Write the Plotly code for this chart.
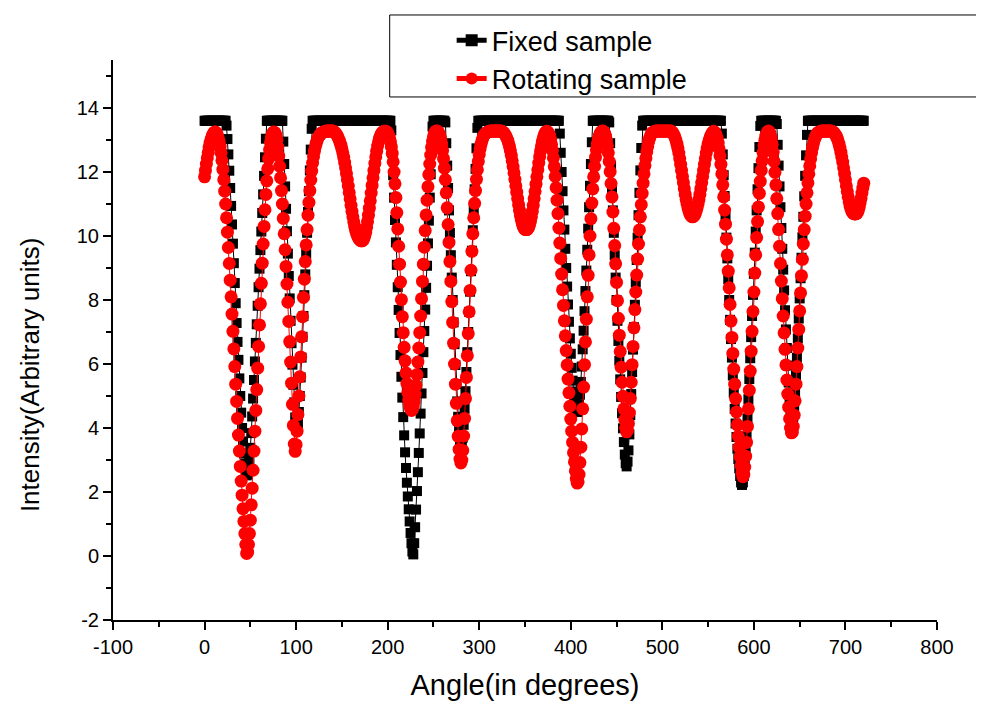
import plotly.graph_objects as go

# ---------------- data ----------------
angle_deg = list(range(0, 721))

fixed_sample = [
    13.6, 13.6, 13.6, 13.6, 13.6, 13.6, 13.6, 13.6, 13.6, 13.6,          # 0
    13.6, 13.6, 13.6, 13.6, 13.6, 13.6, 13.6, 13.6, 13.6, 13.6,          # 10
    13.6, 13.6, 13.6, 13.6, 13.45, 13.03, 12.55, 12.04, 11.5, 10.94,     # 20
    10.36, 9.76, 9.15, 8.53, 7.9, 7.28, 6.69, 6.13, 5.55, 5.0,           # 30
    4.48, 4.0, 3.58, 3.2, 2.88, 2.64, 2.52, 2.55, 2.72, 3.0,             # 40
    3.38, 3.84, 4.36, 4.92, 5.5, 6.08, 6.66, 7.24, 7.82, 8.4,            # 50
    8.98, 9.56, 10.14, 10.72, 11.3, 11.88, 12.46, 13.04, 13.6, 13.6,     # 60
    13.6, 13.6, 13.6, 13.6, 13.6, 13.6, 13.6, 13.6, 13.6, 13.6,          # 70
    13.6, 13.6, 13.6, 13.6, 13.6, 13.6, 12.95, 12.25, 11.55, 10.85,      # 80
    10.15, 9.45, 8.75, 8.05, 7.35, 6.65, 5.98, 5.35, 4.8, 4.33,          # 90
    4.05, 4.0, 4.15, 4.5, 5.0, 5.58, 6.2, 6.85, 7.5, 8.15,               # 100
    8.8, 9.45, 10.1, 10.75, 11.4, 12.05, 12.7, 13.35, 13.6, 13.6,        # 110
    13.6, 13.6, 13.6, 13.6, 13.6, 13.6, 13.6, 13.6, 13.6, 13.6,          # 120
    13.6, 13.6, 13.6, 13.6, 13.6, 13.6, 13.6, 13.6, 13.6, 13.6,          # 130
    13.6, 13.6, 13.6, 13.6, 13.6, 13.6, 13.6, 13.6, 13.6, 13.6,          # 140
    13.6, 13.6, 13.6, 13.6, 13.6, 13.6, 13.6, 13.6, 13.6, 13.6,          # 150
    13.6, 13.6, 13.6, 13.6, 13.6, 13.6, 13.6, 13.6, 13.6, 13.6,          # 160
    13.6, 13.6, 13.6, 13.6, 13.6, 13.6, 13.6, 13.6, 13.6, 13.6,          # 170
    13.6, 13.6, 13.6, 13.6, 13.6, 13.6, 13.6, 13.6, 13.6, 13.6,          # 180
    13.6, 13.6, 13.6, 13.6, 13.6, 13.6, 13.6, 13.6, 13.6, 13.6,          # 190
    13.6, 13.6, 13.6, 13.6, 13.3, 12.6, 11.9, 11.2, 10.5, 9.8,           # 200
    9.1, 8.4, 7.69, 6.97, 6.28, 5.6, 4.95, 4.34, 3.77, 3.24,             # 210
    2.75, 2.29, 1.86, 1.46, 1.08, 0.72, 0.4, 0.14, 0.05, 0.4,            # 220
    0.9, 1.45, 2.03, 2.62, 3.22, 3.83, 4.45, 5.08, 5.72, 6.37,           # 230
    7.03, 7.7, 8.38, 9.07, 9.77, 10.48, 11.2, 11.93, 12.67, 13.42,       # 240
    13.6, 13.6, 13.6, 13.6, 13.6, 13.6, 13.6, 13.6, 13.6, 13.6,          # 250
    13.6, 13.6, 13.6, 13.55, 12.9, 12.2, 11.5, 10.8, 10.1, 9.4,          # 260
    8.7, 8.0, 7.3, 6.62, 5.97, 5.37, 4.83, 4.35, 3.93, 3.6,              # 270
    3.42, 3.45, 3.7, 4.1, 4.6, 5.15, 5.75, 6.37, 7.0, 7.63,              # 280
    8.26, 8.9, 9.54, 10.18, 10.82, 11.46, 12.1, 12.74, 13.38, 13.6,      # 290
    13.6, 13.6, 13.6, 13.6, 13.6, 13.6, 13.6, 13.6, 13.6, 13.6,          # 300
    13.6, 13.6, 13.6, 13.6, 13.6, 13.6, 13.6, 13.6, 13.6, 13.6,          # 310
    13.6, 13.6, 13.6, 13.6, 13.6, 13.6, 13.6, 13.6, 13.6, 13.6,          # 320
    13.6, 13.6, 13.6, 13.6, 13.6, 13.6, 13.6, 13.6, 13.6, 13.6,          # 330
    13.6, 13.6, 13.6, 13.6, 13.6, 13.6, 13.6, 13.6, 13.6, 13.6,          # 340
    13.6, 13.6, 13.6, 13.6, 13.6, 13.6, 13.6, 13.6, 13.6, 13.6,          # 350
    13.6, 13.6, 13.6, 13.6, 13.6, 13.6, 13.6, 13.6, 13.6, 13.6,          # 360
    13.6, 13.6, 13.6, 13.6, 13.6, 13.6, 13.6, 13.6, 13.6, 13.6,          # 370
    13.6, 13.6, 13.6, 13.6, 13.6, 13.6, 13.6, 13.6, 13.2, 12.6,          # 380
    12.0, 11.4, 10.8, 10.2, 9.6, 9.0, 8.42, 7.86, 7.32, 6.8,             # 390
    6.32, 5.88, 5.48, 5.14, 4.86, 4.66, 4.54, 4.5, 4.56, 4.74,           # 400
    5.04, 5.44, 5.92, 6.46, 7.04, 7.65, 8.28, 8.92, 9.57, 10.23,         # 410
    10.9, 11.57, 12.25, 12.93, 13.6, 13.6, 13.6, 13.6, 13.6, 13.6,       # 420
    13.6, 13.6, 13.6, 13.6, 13.6, 13.6, 13.6, 13.6, 13.6, 13.6,          # 430
    13.6, 13.6, 13.55, 12.9, 12.2, 11.5, 10.8, 10.1, 9.4, 8.7,           # 440
    8.0, 7.35, 6.72, 6.1, 5.52, 4.97, 4.46, 3.99, 3.56, 3.17,            # 450
    2.9, 2.8, 2.95, 3.3, 3.8, 4.4, 5.06, 5.75, 6.45, 7.15,               # 460
    7.85, 8.55, 9.25, 9.95, 10.65, 11.35, 12.05, 12.75, 13.45, 13.6,     # 470
    13.6, 13.6, 13.6, 13.6, 13.6, 13.6, 13.6, 13.6, 13.6, 13.6,          # 480
    13.6, 13.6, 13.6, 13.6, 13.6, 13.6, 13.6, 13.6, 13.6, 13.6,          # 490
    13.6, 13.6, 13.6, 13.6, 13.6, 13.6, 13.6, 13.6, 13.6, 13.6,          # 500
    13.6, 13.6, 13.6, 13.6, 13.6, 13.6, 13.6, 13.6, 13.6, 13.6,          # 510
    13.6, 13.6, 13.6, 13.6, 13.6, 13.6, 13.6, 13.6, 13.6, 13.6,          # 520
    13.6, 13.6, 13.6, 13.6, 13.6, 13.6, 13.6, 13.6, 13.6, 13.6,          # 530
    13.6, 13.6, 13.6, 13.6, 13.6, 13.6, 13.6, 13.6, 13.6, 13.6,          # 540
    13.6, 13.6, 13.6, 13.6, 13.6, 13.6, 13.6, 13.6, 13.6, 13.6,          # 550
    13.6, 13.6, 13.6, 13.6, 13.6, 13.2, 12.55, 11.9, 11.25, 10.6,        # 560
    9.95, 9.3, 8.65, 8.0, 7.38, 6.78, 6.2, 5.64, 5.1, 4.6,               # 570
    4.14, 3.72, 3.35, 3.03, 2.74, 2.5, 2.3, 2.22, 2.3, 2.5,              # 580
    2.82, 3.24, 3.74, 4.3, 4.9, 5.53, 6.18, 6.84, 7.5, 8.16,             # 590
    8.82, 9.48, 10.14, 10.8, 11.46, 12.12, 12.78, 13.44, 13.6, 13.6,     # 600
    13.6, 13.6, 13.6, 13.6, 13.6, 13.6, 13.6, 13.6, 13.6, 13.6,          # 610
    13.6, 13.6, 13.6, 13.6, 13.6, 13.5, 12.85, 12.2, 11.55, 10.9,        # 620
    10.25, 9.6, 8.95, 8.3, 7.68, 7.08, 6.5, 5.95, 5.42, 4.94,            # 630
    4.52, 4.25, 4.2, 4.35, 4.68, 5.12, 5.64, 6.2, 6.8, 7.42,             # 640
    8.05, 8.68, 9.32, 9.96, 10.6, 11.24, 11.88, 12.52, 13.16, 13.6,      # 650
    13.6, 13.6, 13.6, 13.6, 13.6, 13.6, 13.6, 13.6, 13.6, 13.6,          # 660
    13.6, 13.6, 13.6, 13.6, 13.6, 13.6, 13.6, 13.6, 13.6, 13.6,          # 670
    13.6, 13.6, 13.6, 13.6, 13.6, 13.6, 13.6, 13.6, 13.6, 13.6,          # 680
    13.6, 13.6, 13.6, 13.6, 13.6, 13.6, 13.6, 13.6, 13.6, 13.6,          # 690
    13.6, 13.6, 13.6, 13.6, 13.6, 13.6, 13.6, 13.6, 13.6, 13.6,          # 700
    13.6, 13.6, 13.6, 13.6, 13.6, 13.6, 13.6, 13.6, 13.6, 13.6,          # 710
    13.6,                                                                # 720
]

rotating_sample = [
    11.85, 12.05, 12.25, 12.44, 12.61, 12.77, 12.9, 13.01, 13.1, 13.17,  # 0
    13.22, 13.25, 13.25, 13.22, 13.16, 13.07, 12.95, 12.8, 12.6, 12.36,  # 10
    12.08, 11.76, 11.4, 11.0, 10.57, 10.12, 9.64, 9.14, 8.62, 8.1,       # 20
    7.56, 7.02, 6.47, 5.92, 5.37, 4.83, 4.3, 3.78, 3.28, 2.8,            # 30
    2.34, 1.9, 1.48, 1.08, 0.7, 0.36, 0.08, 0.12, 0.36, 0.7,             # 40
    1.12, 1.6, 2.12, 2.68, 3.28, 3.9, 4.55, 5.2, 5.87, 6.55,             # 50
    7.22, 7.88, 8.52, 9.15, 9.75, 10.3, 10.82, 11.3, 11.72, 12.1,        # 60
    12.42, 12.7, 12.92, 13.08, 13.18, 13.24, 13.25, 13.22, 13.15, 13.0,  # 70
    12.78, 12.5, 12.18, 11.82, 11.42, 11.0, 10.55, 10.07, 9.57, 9.05,    # 80
    8.5, 7.93, 7.33, 6.7, 6.06, 5.4, 4.74, 4.08, 3.5, 3.27,              # 90
    3.48, 3.9, 4.42, 5.0, 5.6, 6.22, 6.85, 7.48, 8.08, 8.65,             # 100
    9.2, 9.72, 10.2, 10.65, 11.05, 11.42, 11.75, 12.03, 12.28, 12.48,    # 110
    12.65, 12.79, 12.9, 12.99, 13.06, 13.12, 13.16, 13.2, 13.22, 13.24,  # 120
    13.25, 13.26, 13.27, 13.28, 13.28, 13.28, 13.28, 13.28, 13.28, 13.28,  # 130
    13.28, 13.27, 13.25, 13.22, 13.18, 13.13, 13.07, 13.0, 12.92, 12.83,   # 140
    12.72, 12.6, 12.46, 12.3, 12.13, 11.95, 11.76, 11.56, 11.36, 11.16,    # 150
    10.96, 10.77, 10.6, 10.44, 10.3, 10.18, 10.08, 10.0, 9.94, 9.9,        # 160
    9.87, 9.85, 9.85, 9.87, 9.92, 10.0, 10.12, 10.27, 10.45, 10.65,        # 170
    10.87, 11.1, 11.34, 11.58, 11.82, 12.05, 12.27, 12.47, 12.65, 12.81,   # 180
    12.94, 13.05, 13.13, 13.19, 13.23, 13.26, 13.27, 13.27, 13.27, 13.26,  # 190
    13.22, 13.16, 13.07, 12.95, 12.79, 12.58, 12.32, 12.0, 11.63, 11.2,    # 200
    10.73, 10.22, 9.68, 9.12, 8.56, 8.01, 7.48, 6.98, 6.52, 6.1,           # 210
    5.72, 5.39, 5.11, 4.88, 4.71, 4.6, 4.55, 4.58, 4.67, 4.83,             # 220
    5.05, 5.33, 5.67, 6.06, 6.5, 6.98, 7.5, 8.04, 8.58, 9.12,              # 230
    9.65, 10.17, 10.66, 11.12, 11.54, 11.92, 12.25, 12.53, 12.77, 12.96,   # 240
    13.1, 13.2, 13.26, 13.28, 13.28, 13.26, 13.21, 13.13, 13.02, 12.87,    # 250
    12.67, 12.42, 12.12, 11.76, 11.35, 10.88, 10.36, 9.8, 9.2, 8.58,       # 260
    7.95, 7.3, 6.65, 6.0, 5.37, 4.77, 4.23, 3.74, 3.33, 3.03,              # 270
    2.91, 3.0, 3.3, 3.75, 4.3, 4.92, 5.58, 6.26, 6.95, 7.63,               # 280
    8.3, 8.93, 9.52, 10.07, 10.57, 11.02, 11.42, 11.77, 12.07, 12.33,      # 290
    12.55, 12.73, 12.87, 12.98, 13.07, 13.13, 13.18, 13.21, 13.23, 13.25,  # 300
    13.26, 13.27, 13.28, 13.28, 13.28, 13.28, 13.28, 13.28, 13.28, 13.28,  # 310
    13.28, 13.28, 13.28, 13.28, 13.28, 13.27, 13.25, 13.22, 13.18, 13.13,  # 320
    13.07, 13.0, 12.91, 12.8, 12.67, 12.52, 12.35, 12.17, 11.97, 11.77,    # 330
    11.57, 11.37, 11.17, 10.98, 10.8, 10.64, 10.5, 10.39, 10.3, 10.24,     # 340
    10.21, 10.2, 10.2, 10.22, 10.27, 10.35, 10.46, 10.6, 10.77, 10.96,     # 350
    11.17, 11.39, 11.62, 11.85, 12.07, 12.28, 12.48, 12.66, 12.82, 12.96,  # 360
    13.07, 13.16, 13.22, 13.26, 13.27, 13.25, 13.2, 13.12, 13.01, 12.86,   # 370
    12.67, 12.44, 12.17, 11.86, 11.51, 11.12, 10.7, 10.25, 9.78, 9.3,      # 380
    8.81, 8.32, 7.83, 7.35, 6.88, 6.42, 5.97, 5.53, 5.1, 4.68,             # 390
    4.28, 3.9, 3.55, 3.23, 2.94, 2.66, 2.42, 2.28, 2.32, 2.55,             # 400
    2.92, 3.4, 3.97, 4.6, 5.28, 5.98, 6.69, 7.4, 8.1, 8.77,                # 410
    9.41, 10.0, 10.54, 11.03, 11.47, 11.85, 12.18, 12.46, 12.69, 12.87,    # 420
    13.01, 13.12, 13.2, 13.25, 13.27, 13.28, 13.26, 13.21, 13.12, 12.99,   # 430
    12.82, 12.6, 12.33, 12.01, 11.64, 11.22, 10.75, 10.24, 9.7, 9.13,      # 440
    8.55, 7.98, 7.43, 6.9, 6.39, 5.9, 5.43, 4.99, 4.6, 4.26,               # 450
    4.0, 3.88, 3.93, 4.14, 4.48, 4.92, 5.43, 5.98, 6.55, 7.13,             # 460
    7.7, 8.25, 8.78, 9.28, 9.75, 10.19, 10.6, 10.98, 11.33, 11.65,         # 470
    11.94, 12.2, 12.43, 12.63, 12.8, 12.94, 13.05, 13.13, 13.19, 13.23,    # 480
    13.25, 13.26, 13.27, 13.28, 13.28, 13.28, 13.28, 13.28, 13.28, 13.28,  # 490
    13.28, 13.28, 13.28, 13.28, 13.28, 13.28, 13.28, 13.28, 13.28, 13.28,  # 500
    13.27, 13.24, 13.2, 13.14, 13.07, 12.98, 12.87, 12.74, 12.59, 12.42,   # 510
    12.24, 12.05, 11.86, 11.67, 11.48, 11.3, 11.14, 11.0, 10.88, 10.78,    # 520
    10.7, 10.64, 10.61, 10.6, 10.61, 10.64, 10.7, 10.78, 10.88, 11.0,      # 530
    11.14, 11.3, 11.48, 11.67, 11.86, 12.05, 12.24, 12.42, 12.59, 12.74,   # 540
    12.87, 12.98, 13.07, 13.14, 13.2, 13.24, 13.27, 13.25, 13.21, 13.14,   # 550
    13.04, 12.9, 12.72, 12.5, 12.24, 11.94, 11.6, 11.22, 10.81, 10.37,     # 560
    9.9, 9.41, 8.9, 8.38, 7.86, 7.34, 6.83, 6.33, 5.84, 5.37,              # 570
    4.92, 4.5, 4.1, 3.74, 3.4, 3.1, 2.82, 2.6, 2.48, 2.55,                 # 580
    2.78, 3.12, 3.55, 4.05, 4.6, 5.18, 5.78, 6.4, 7.02, 7.64,              # 590
    8.25, 8.84, 9.41, 9.95, 10.45, 10.91, 11.33, 11.71, 12.05, 12.35,      # 600
    12.61, 12.82, 12.99, 13.12, 13.21, 13.26, 13.28, 13.25, 13.17, 13.04,  # 610
    12.86, 12.62, 12.33, 11.99, 11.6, 11.17, 10.7, 10.2, 9.68, 9.14,       # 620
    8.59, 8.04, 7.5, 6.97, 6.46, 5.97, 5.5, 5.06, 4.65, 4.29,              # 630
    4.0, 3.85, 3.87, 4.05, 4.4, 4.85, 5.37, 5.92, 6.5, 7.08,               # 640
    7.66, 8.22, 8.76, 9.27, 9.75, 10.2, 10.62, 11.0, 11.35, 11.66,         # 650
    11.94, 12.19, 12.41, 12.6, 12.76, 12.89, 13.0, 13.08, 13.15, 13.2,     # 660
    13.23, 13.25, 13.26, 13.27, 13.28, 13.28, 13.28, 13.28, 13.28, 13.28,  # 670
    13.28, 13.28, 13.28, 13.28, 13.28, 13.27, 13.26, 13.24, 13.21, 13.17,  # 680
    13.12, 13.05, 12.97, 12.87, 12.75, 12.62, 12.47, 12.31, 12.13, 11.95,  # 690
    11.76, 11.57, 11.39, 11.22, 11.07, 10.94, 10.84, 10.77, 10.72, 10.7,   # 700
    10.69, 10.69, 10.7, 10.73, 10.8, 10.9, 11.03, 11.18, 11.34, 11.5,      # 710
    11.65,                                                                 # 720
]

x_tick_values = [-100, 0, 100, 200, 300, 400, 500, 600, 700, 800]
x_tick_labels = ["-100", "0", "100", "200", "300", "400", "500", "600", "700", "800"]
y_tick_values = [-2, 0, 2, 4, 6, 8, 10, 12, 14]
y_tick_labels = ["-2", "0", "2", "4", "6", "8", "10", "12", "14"]

assert len(fixed_sample) == len(angle_deg), len(fixed_sample)
assert len(rotating_sample) == len(angle_deg), len(rotating_sample)

FONT = "Liberation Sans, Arial, sans-serif"

fig = go.Figure()
fig.add_trace(go.Scatter(
    x=angle_deg, y=fixed_sample, mode="lines+markers", name="Fixed sample",
    line=dict(color="black", width=1),
    marker=dict(symbol="square", size=10, color="black"),
))
fig.add_trace(go.Scatter(
    x=angle_deg, y=rotating_sample, mode="lines+markers", name="Rotating sample",
    line=dict(color="red", width=1),
    marker=dict(symbol="circle", size=13, color="red"),
))

# the page places the figure 8 px from the top-left corner, so the figure is
# sized to the remaining visible area
fig.update_layout(
    width=976, height=696,
    margin=dict(l=105, r=47, t=52, b=84, autoexpand=False),
    paper_bgcolor="white", plot_bgcolor="white",
    font=dict(family=FONT, color="black", size=18),
    showlegend=True,
    legend=dict(
        x=0.411, y=1.078, xanchor="left", yanchor="top",
        bgcolor="rgba(0,0,0,0)", borderwidth=0,
        font=dict(family=FONT, size=27, color="black"),
        tracegroupgap=0, itemsizing="constant",
    ),
    shapes=[dict(
        type="rect", xref="paper", yref="paper",
        x0=0.3358, x1=1.0559, y0=0.934, y1=1.0804,
        line=dict(color="black", width=1), fillcolor="rgba(0,0,0,0)",
    )],
    annotations=[dict(
        text="Intensity(Arbitrary units)", xref="paper", yref="paper",
        x=-0.1008, y=0.439, xanchor="center", yanchor="middle",
        textangle=-90, showarrow=False,
        font=dict(family=FONT, size=26, color="black"),
    )],
)

fig.update_xaxes(
    range=[-100, 800], tickmode="array", tickvals=x_tick_values, ticktext=x_tick_labels,
    ticks="outside", ticklen=8, tickwidth=1.5, tickcolor="black",
    minor=dict(dtick=50, tick0=-100, ticks="outside", ticklen=5, tickwidth=1.5, tickcolor="black"),
    showline=True, linecolor="black", linewidth=2,
    showgrid=False, zeroline=False, automargin=False,
    tickfont=dict(family=FONT, size=20),
    title=dict(text="Angle(in degrees)", font=dict(family=FONT, size=29), standoff=18),
)
fig.update_yaxes(
    range=[-2, 15.5], tickmode="array", tickvals=y_tick_values, ticktext=y_tick_labels,
    ticks="outside", ticklen=8, tickwidth=1.5, tickcolor="black",
    minor=dict(dtick=1, tick0=-2, ticks="outside", ticklen=5, tickwidth=1.5, tickcolor="black"),
    showline=True, linecolor="black", linewidth=2,
    showgrid=False, zeroline=False, automargin=False,
    tickfont=dict(family=FONT, size=20),
)

fig.write_html("out.html")
